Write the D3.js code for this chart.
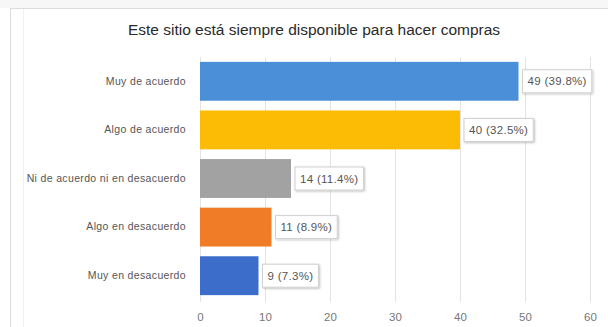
<!DOCTYPE html>
<html>
<head>
<meta charset="utf-8">
<script src="https://cdn.jsdelivr.net/npm/d3@7"></script>
<style>
body { margin: 0; background: #fff; }
svg { display: block; font-family: "Liberation Sans", Arial, sans-serif; }
</style>
</head>
<body>
<svg id="chart" width="608" height="327"></svg>
<script>
// data
var categories = ["Muy de acuerdo", "Algo de acuerdo", "Ni de acuerdo ni en desacuerdo", "Algo en desacuerdo", "Muy en desacuerdo"],
	counts = [49, 40, 14, 11, 9],
	percents = ["39.8%", "32.5%", "11.4%", "8.9%", "7.3%"],
	barColors = ["#4a8fd8", "#fcbc05", "#a2a2a2", "#f07c27", "#3d6dcb"],
	ticks = [0, 10, 20, 30, 40, 50, 60];

var svg = d3.select("#chart"),
	width = +svg.attr("width"),
	height = +svg.attr("height");

var rows = categories.map(function(c, i) {
	return {name: c, value: counts[i], pct: percents[i], color: barColors[i]};
});

// frame
svg.append("rect").attr("x", 0).attr("y", 0).attr("width", width).attr("height", 8).attr("fill", "#f7f7f7");
svg.append("line").attr("x1", 10).attr("x2", width).attr("y1", 8.5).attr("y2", 8.5).attr("stroke", "#dcdcdc");
svg.append("line").attr("x1", 10.5).attr("x2", 10.5).attr("y1", 8).attr("y2", height).attr("stroke", "#dcdcdc");
svg.append("line").attr("x1", 23.5).attr("x2", 23.5).attr("y1", 9).attr("y2", height).attr("stroke", "#f1f1f1");

var x = d3.scaleLinear().domain([0, 60]).range([200, 590]),
	y = d3.scaleBand().domain(categories).range([57, 300]).paddingInner(0.2).paddingOuter(0.1);

// title
svg.append("text")
	.attr("x", 314).attr("y", 35)
	.attr("text-anchor", "middle")
	.attr("font-size", 15.5)
	.attr("fill", "#2a2a2a")
	.text("Este sitio está siempre disponible  para hacer compras");

// grid
svg.append("g").selectAll("line")
	.data(ticks)
	.enter().append("line")
	.attr("x1", function(d) { return Math.round(x(d)) + 0.5; })
	.attr("x2", function(d) { return Math.round(x(d)) + 0.5; })
	.attr("y1", 57).attr("y2", 302)
	.attr("stroke", "#e3e3e3");

// x axis labels
var xAxis = svg.append("g")
	.attr("transform", "translate(0,304)")
	.call(d3.axisBottom(x).tickValues(ticks).tickSize(0).tickPadding(9));
xAxis.select(".domain").remove();
xAxis.selectAll("text").attr("font-size", 11.5).attr("fill", "#777").attr("font-family", "Liberation Sans, Arial, sans-serif");

// y labels
var yAxis = svg.append("g")
	.attr("transform", "translate(200,0)")
	.call(d3.axisLeft(y).tickSize(0).tickPadding(14));
yAxis.select(".domain").remove();
yAxis.selectAll("text").attr("font-size", 10.5).attr("letter-spacing", 0.35).attr("fill", "#555").attr("font-family", "Liberation Sans, Arial, sans-serif");

// bars
svg.append("g").selectAll("rect")
	.data(rows)
	.enter().append("rect")
	.attr("x", x(0))
	.attr("y", function(d) { return y(d.name); })
	.attr("width", function(d) { return x(d.value) - x(0); })
	.attr("height", y.bandwidth())
	.attr("fill", function(d) { return d.color; });

// value labels
var defs = svg.append("defs");
var f = defs.append("filter").attr("id", "shadow").attr("x", "-20%").attr("y", "-30%").attr("width", "140%").attr("height", "160%");
f.append("feDropShadow").attr("dx", 1).attr("dy", 1).attr("stdDeviation", 1).attr("flood-color", "#000").attr("flood-opacity", 0.25);

var lab = svg.append("g").selectAll("g")
	.data(rows)
	.enter().append("g")
	.attr("transform", function(d) { return "translate(" + (x(d.value) + 4) + "," + (y(d.name) + y.bandwidth() / 2) + ")"; });

lab.append("rect")
	.attr("y", -11.5)
	.attr("height", 23)
	.attr("fill", "#fff")
	.attr("stroke", "#d0d0d0")
	.attr("filter", "url(#shadow)");

lab.append("text")
	.attr("x", 5)
	.attr("dy", "0.35em")
	.attr("font-size", 11.5)
	.attr("letter-spacing", 0.3)
	.attr("fill", "#555")
	.text(function(d) { return d.value + " (" + d.pct + ")"; });

lab.each(function() {
	var g = d3.select(this),
		w = g.select("text").node().getComputedTextLength();
	g.select("rect").attr("width", w + 10);
});
</script>
</body>
</html>
